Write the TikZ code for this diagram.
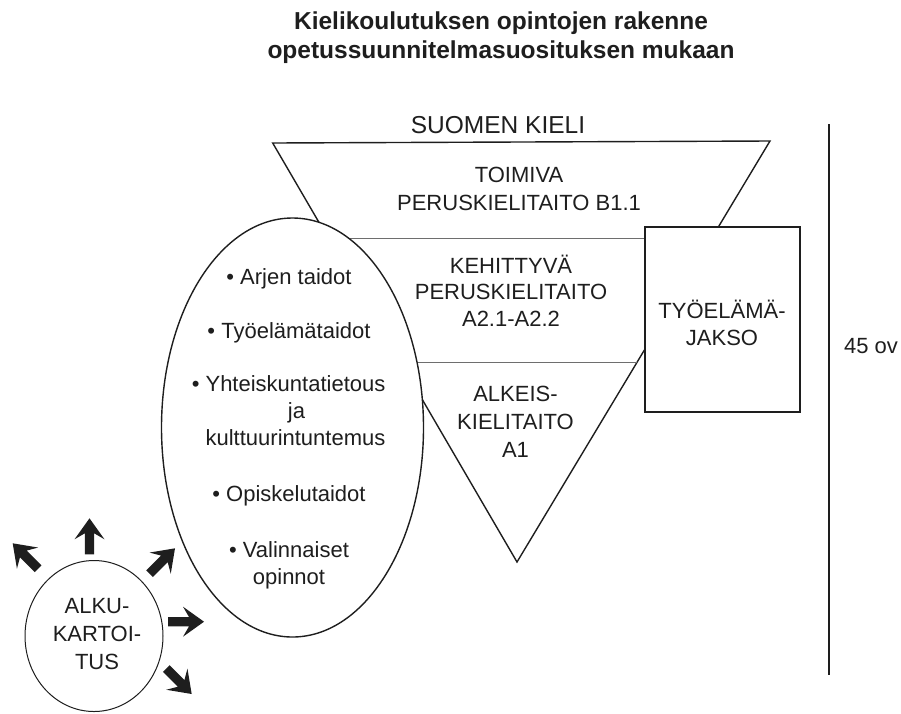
\documentclass[tikz,border=0pt]{standalone}
\usepackage{fontspec}
\setmainfont{Liberation Sans}
\usetikzlibrary{shapes.geometric}
\definecolor{ink}{HTML}{1E1E1E}
\definecolor{rule}{HTML}{6E6E6E}
\tikzset{
  txt/.style={font=\fontsize{22}{26}\selectfont, text=ink, inner sep=0pt, anchor=base},
  bigtxt/.style={txt, font=\fontsize{24.5}{29}\selectfont},
  ttl/.style={txt, font=\fontsize{24.5}{29}\selectfont\bfseries},
  edgeline/.style={line width=1.4pt, draw=ink, line join=miter},
  divider/.style={line width=1pt, draw=rule},
  blockarrow/.pic={\fill[ink] (0,0) -- (-21,15) -- (-15,4.7) -- (-36,4.7) -- (-36,-4.7) -- (-15,-4.7) -- (-21,-15) -- cycle;}
}
\begin{document}
\begin{tikzpicture}[x=1pt,y=-1pt]
\useasboundingbox (0,0) rectangle (901,713);
% triangle
\coordinate (tl) at (272.7,143);
\coordinate (tr) at (770,141);
\coordinate (ap) at (517,562);
\draw[edgeline] (tl) -- (tr) -- (ap) -- cycle;
% dividers
\coordinate (d1l) at (328.4,238.5);
\coordinate (d1r) at (711.4,238.5);
\coordinate (d2l) at (400.4,362);
\coordinate (d2r) at (637.2,362);
\draw[divider] (d1l) -- (d1r);
\draw[divider] (d2l) -- (d2r);
% ellipse of skills
\node[ellipse, draw=ink, line width=1.4pt, fill=white, inner sep=0pt,
      minimum width=262pt, minimum height=419pt] (ell) at (292.5,427.5) {};
% work period box
\node[draw=ink, line width=2pt, fill=white, inner sep=0pt,
      minimum width=154.5pt, minimum height=184.4pt] (box) at (722.25,319.5) {};
% initial mapping circle
\node[ellipse, draw=ink, line width=1pt, fill=white, inner sep=0pt,
      minimum width=138pt, minimum height=151pt] (alku) at (94,636) {};
% vertical scale line
\coordinate (vt) at (829,124);
\coordinate (vb) at (829,675);
\draw[line width=1.5pt, draw=ink] (vt) -- (vb);
% arrows
\pic[rotate=135] at (12.7,543.3) {blockarrow};
\pic[rotate=90] at (89.5,518.3) {blockarrow};
\pic[rotate=45] at (175,548.3) {blockarrow};
\pic[rotate=0] at (204,621.7) {blockarrow};
\pic[rotate=-45] at (191.7,694) {blockarrow};
% texts
\node[ttl] (title1) at (501,29.5) {Kielikoulutuksen opintojen rakenne};
\node[ttl] (title2) at (501,58.5) {opetussuunnitelmasuosituksen mukaan};
\node[bigtxt] (suomi) at (498,133) {SUOMEN KIELI};
\node[txt] (toim1) at (519,182) {TOIMIVA};
\node[txt] (toim2) at (519,210) {PERUSKIELITAITO B1.1};
\node[txt] (keh1) at (511,273) {KEHITTYVÄ};
\node[txt] (keh2) at (511,299.5) {PERUSKIELITAITO};
\node[txt] (keh3) at (511,326) {A2.1-A2.2};
\node[txt] (alk1) at (515.5,401.5) {ALKEIS-};
\node[txt] (alk2) at (515.5,429) {KIELITAITO};
\node[txt] (alk3) at (515.5,457) {A1};
\node[txt] (tyo1) at (722,318) {TYÖELÄMÄ-};
\node[txt] (tyo2) at (722,345) {JAKSO};
\node[txt] (ov) at (871,353) {45 ov};
\node[txt] (e1) at (289,284.5) {\textbullet\ Arjen taidot};
\node[txt] (e2) at (289,338) {\textbullet\ Työelämätaidot};
\node[txt] (e3) at (295.5,391) {\llap{\textbullet\ }Yhteiskuntatietous};
\node[txt] (e4) at (296.5,418) {ja};
\node[txt] (e5) at (295.5,445) {kulttuurintuntemus};
\node[txt] (e6) at (289,501.5) {\textbullet\ Opiskelutaidot};
\node[txt] (e7) at (289,557) {\textbullet\ Valinnaiset};
\node[txt] (e8) at (289,584.5) {opinnot};
\node[txt] (a1) at (97,613) {ALKU-};
\node[txt] (a2) at (97,641) {KARTOI-};
\node[txt] (a3) at (97,669) {TUS};
\end{tikzpicture}
\end{document}
